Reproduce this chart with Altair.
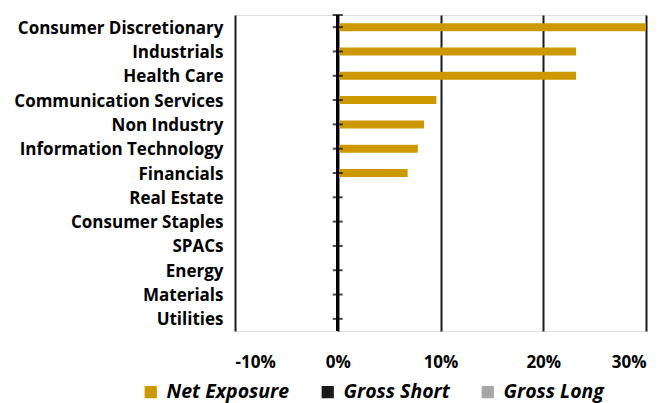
import altair as alt
import pandas as pd

categories = ["Consumer Discretionary", "Industrials", "Health Care", "Communication Services",
              "Non Industry", "Information Technology", "Financials", "Real Estate",
              "Consumer Staples", "SPACs", "Energy", "Materials", "Utilities"]
net_exposure = [0.300, 0.232, 0.232, 0.096, 0.084, 0.078, 0.068, 0, 0, 0, 0, 0, 0]
gross_short = [0] * 13
gross_long = [0] * 13
series = ["Net Exposure", "Gross Short", "Gross Long"]
colors = ["#CC9900", "#1a1a1a", "#A6A6A6"]
x_ticks = [-0.1, 0, 0.1, 0.2, 0.3]

rows = []
for i, c in enumerate(categories):
    rows.append({"cat": c, "series": "Gross Long", "v": gross_long[i]})
    rows.append({"cat": c, "series": "Gross Short", "v": gross_short[i]})
    rows.append({"cat": c, "series": "Net Exposure", "v": net_exposure[i]})
df = pd.DataFrame(rows)
cat_df = pd.DataFrame({"cat": categories, "zero": [0] * 13})

FONT = "Open Sans"

yscale = alt.Scale(domain=categories, paddingInner=0, paddingOuter=0)
xscale = alt.Scale(domain=[-0.1, 0.3], nice=False, zero=False)

bars = alt.Chart(df).mark_bar(size=8).encode(
    x=alt.X("v:Q", scale=xscale,
            axis=alt.Axis(values=x_ticks, format=".0%", title=None, grid=True,
                          labelExpr="replace(datum.label, '\u2212', '-')",
                          gridColor="#1a1a1a", gridWidth=2, domain=False, ticks=False,
                          labelPadding=23, labelFontSize=17, labelFontWeight="bold",
                          labelFont=FONT, labelColor="#000")),
    y=alt.Y("cat:N", scale=yscale, sort=categories,
            axis=alt.Axis(title=None, domain=False, ticks=False, grid=False,
                          labelPadding=12, labelFontSize=17, labelFontWeight="bold",
                          labelOffset=1.5,
                          labelLimit=0, labelFont=FONT, labelColor="#000")),
    color=alt.Color("series:N", scale=alt.Scale(domain=series, range=colors),
                    legend=alt.Legend(title=None, orient="none", direction="horizontal",
                                      legendX=-94, legendY=367, symbolType="square",
                                      symbolSize=150, symbolStrokeWidth=0,
                                      labelFontSize=19.5, labelFontWeight="bold",
                                      labelFontStyle="italic", labelFont=FONT,
                                      labelColor="#000", columnPadding=28,
                                      labelOffset=6, labelLimit=0)),
)

zero_line = alt.Chart(cat_df).mark_rule(color="#000", strokeWidth=2).encode(
    x=alt.X("zero:Q", scale=xscale), y=alt.value(0), y2=alt.value(316)
)
zero_ticks = alt.Chart(cat_df).mark_tick(orient="horizontal", size=10, thickness=2,
                                         color="#000").encode(
    x=alt.X("zero:Q", scale=xscale), y=alt.Y("cat:N", scale=yscale, sort=categories)
)
top_tick = alt.Chart(cat_df.head(1)).mark_tick(orient="horizontal", size=10, thickness=2,
                                               color="#000").encode(
    x=alt.X("zero:Q", scale=xscale), y=alt.value(0)
)

chart = alt.layer(bars, zero_line, zero_ticks, top_tick).properties(
    width=411, height=316, autosize="none",
    padding={"left": 227, "top": 7, "right": 15, "bottom": 90}
).configure_view(stroke=None).configure(background="white")

chart.save("out.html", embed_options={"renderer": "svg", "actions": False})
